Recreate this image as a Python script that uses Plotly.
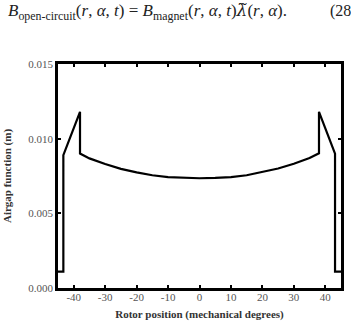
import plotly.graph_objects as go

# Rotor position (mechanical degrees) and airgap function (m)
pos_deg = [-45, -43.3, -43.3, -38, -38, -35, -30, -25, -20, -15, -10, -5, 0,
           5, 10, 15, 20, 25, 30, 35, 38, 38, 43.1, 43.1, 45]
airgap_m = [0.0011, 0.0011, 0.0089, 0.0118, 0.0090, 0.00868, 0.00830, 0.00798,
            0.00774, 0.00755, 0.00743, 0.00737, 0.00735,
            0.00737, 0.00743, 0.00755, 0.00776, 0.00800, 0.00832, 0.00870,
            0.00902, 0.0118, 0.0090, 0.0011, 0.0011]

x_ticks = [-40, -30, -20, -10, 0, 10, 20, 30, 40]
x_tick_labels = ["-40", "-30", "-20", "-10", "0", "10", "20", "30", "40"]
y_ticks = [0.000, 0.005, 0.010, 0.015]
y_tick_labels = ["0.000", "0.005", "0.010", "0.015"]

serif = "Liberation Serif"

fig = go.Figure()
fig.add_trace(go.Scatter(x=pos_deg, y=airgap_m, mode="lines",
                         line=dict(color="black", width=2.2),
                         showlegend=False, hoverinfo="skip"))

axis_common = dict(showline=True, linecolor="black", linewidth=2.5, mirror="ticks",
                   ticks="inside", ticklen=3, tickwidth=2, tickcolor="black",
                   showgrid=False, zeroline=False, automargin=False,
                   tickfont=dict(family=serif, size=11, color="#555"))

fig.update_xaxes(range=[-45, 45], tickvals=x_ticks, ticktext=x_tick_labels,
                 ticklabelstandoff=-3,
                 title=dict(text="<b>Rotor position (mechanical degrees)</b>",
                            font=dict(family=serif, size=11, color="#333"), standoff=10),
                 **axis_common)
fig.update_yaxes(range=[0, 0.015], tickvals=y_ticks, ticktext=y_tick_labels,
                 title=dict(text="<b>Airgap function (m)</b>",
                            font=dict(family=serif, size=11, color="#333"), standoff=15),
                 **axis_common)

fig.add_annotation(
    text="<i>B</i><sub>open-circuit</sub>(<i>r</i>, <i>α</i>, <i>t</i>) = "
         "<i>B</i><sub>magnet</sub>(<i>r</i>, <i>α</i>, <i>t</i>)"
         "<span style=\"font-family:'DejaVu Serif'\"><i>λ̃</i></span>(<i>r</i>, <i>α</i>).",
    xref="paper", yref="paper", x=-0.185, y=1.235, xanchor="left", yanchor="middle",
    showarrow=False, font=dict(family=serif, size=17, color="#222"))
fig.add_annotation(
    text="(28", xref="paper", yref="paper", x=0.955, y=1.235, xanchor="left",
    yanchor="middle", showarrow=False, font=dict(family=serif, size=16, color="#222"))

fig.update_layout(width=351, height=321, margin=dict(l=58, r=10, t=64, b=33),
                  paper_bgcolor="white", plot_bgcolor="white")

fig.write_html("out.html")
